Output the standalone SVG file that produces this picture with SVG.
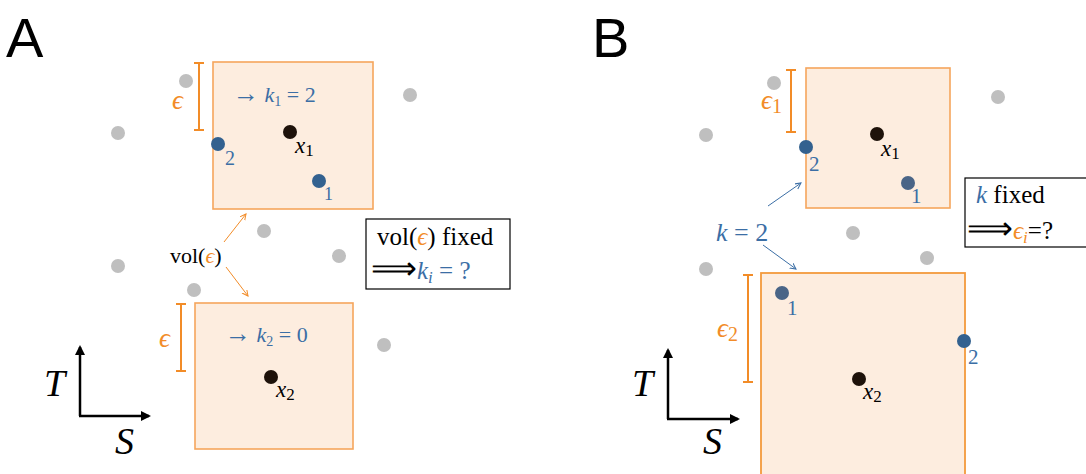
<svg xmlns="http://www.w3.org/2000/svg" width="1086" height="474" viewBox="0 0 1086 474">
<defs>
<style>
.box{fill:#fdeddf;stroke:#f5a55c;stroke-width:1.6}
.box2{fill:#fdeddf;stroke:#f39a3c;stroke-width:1.8}
.gray{fill:#bfbfbf}
.blk{fill:#1e120a}
.blue{fill:#33618f}
.blue2{fill:#4a6587}
.br{stroke:#f28c28;stroke-width:2;fill:none}
.m{font-family:"Liberation Serif",serif;font-style:italic}
.r{font-family:"Liberation Serif",serif}
.bt{fill:#3b6ea5}
.ot{fill:#f28c28}
.lab{font-family:"Liberation Sans",Arial,sans-serif;font-size:56px;fill:#000}
.tb{fill:#fff;stroke:#000;stroke-width:1.2}
</style>
<marker id="ao" markerWidth="8" markerHeight="8" refX="6" refY="3" orient="auto" markerUnits="userSpaceOnUse"><path d="M0,0 L6,3 L0,6" fill="none" stroke="#f28c28" stroke-width="1"/></marker>
<marker id="ab" markerWidth="8" markerHeight="8" refX="6" refY="3" orient="auto" markerUnits="userSpaceOnUse"><path d="M0,0 L6,3 L0,6" fill="none" stroke="#3b6ea5" stroke-width="1"/></marker>
<marker id="ak" markerWidth="12" markerHeight="12" refX="8" refY="5" orient="auto" markerUnits="userSpaceOnUse"><path d="M0,0 L10,5 L0,10 Z" fill="#000"/></marker>
</defs>

<!-- Panel A -->
<text class="lab" x="6" y="57">A</text>
<g id="A-gray">
<circle class="gray" cx="186" cy="81" r="7"/>
<circle class="gray" cx="118" cy="133" r="7"/>
<circle class="gray" cx="410" cy="95" r="7"/>
<circle class="gray" cx="264" cy="231" r="7"/>
<circle class="gray" cx="118" cy="266" r="7"/>
<circle class="gray" cx="339" cy="256" r="7"/>
<circle class="gray" cx="194" cy="290" r="7"/>
<circle class="gray" cx="384" cy="345" r="7"/>
</g>
<g id="A-box1">
<rect class="box" x="213" y="62" width="160" height="147"/>
<text class="r bt" x="233" y="102" font-size="22"><tspan font-size="26">→</tspan> <tspan class="m">k</tspan><tspan font-size="14" dy="4">1</tspan><tspan dy="-4"> = 2</tspan></text>
<circle class="blk" cx="290" cy="132" r="7"/>
<text class="m" x="295" y="153" font-size="23">x<tspan class="r" font-style="normal" font-size="17" dy="3">1</tspan></text>
<circle class="blue" cx="218" cy="144" r="7"/>
<text class="r bt" x="225" y="165" font-size="20">2</text>
<circle class="blue" cx="319" cy="181" r="7"/>
<text class="r bt" x="324" y="200" font-size="18">1</text>
</g>
<g id="A-eps1">
<path class="br" d="M199,63 V130 M194,63 H204 M194,130 H204"/>
<text class="m ot" x="172" y="109" font-size="27">ϵ</text>
</g>
<g id="A-box2">
<rect class="box" x="195" y="303" width="158" height="146"/>
<text class="r bt" x="225" y="342" font-size="22"><tspan font-size="26">→</tspan> <tspan class="m">k</tspan><tspan font-size="14" dy="4">2</tspan><tspan dy="-4"> = 0</tspan></text>
<circle class="blk" cx="271" cy="377" r="7"/>
<text class="m" x="276" y="397" font-size="23">x<tspan class="r" font-style="normal" font-size="17" dy="3">2</tspan></text>
</g>
<g id="A-eps2">
<path class="br" d="M181,304 V371 M176,304 H186 M176,371 H186"/>
<text class="m ot" x="159" y="347" font-size="27">ϵ</text>
</g>
<g id="A-vol">
<text class="r" x="170" y="263" font-size="22">vol(<tspan class="m ot">ϵ</tspan>)</text>
</g>
<g id="A-query">
<rect class="tb" x="366" y="219" width="144" height="70"/>
<text class="r" x="377" y="245" font-size="25">vol(<tspan class="m ot">ϵ</tspan>) fixed</text>
<text class="r" x="371" y="279" font-size="25"><tspan font-size="32">⟹</tspan><tspan class="m bt">k</tspan><tspan class="m bt" font-size="17" dy="4">i</tspan><tspan class="bt" dy="-4"> = ?</tspan></text>
</g>
<g id="A-axes">
<path d="M80,416 V347" stroke="#000" stroke-width="2.5" fill="none" marker-end="url(#ak)"/>
<path d="M79,416 H149" stroke="#000" stroke-width="2.5" fill="none" marker-end="url(#ak)"/>
<text class="m" x="44" y="396" font-size="38">T</text>
<text class="m" x="115" y="454" font-size="38">S</text>
</g>

<!-- Panel B -->
<text class="lab" x="592" y="57">B</text>
<g id="B-gray">
<circle class="gray" cx="774" cy="83" r="7"/>
<circle class="gray" cx="706" cy="135" r="7"/>
<circle class="gray" cx="998" cy="97" r="7"/>
<circle class="gray" cx="853" cy="233" r="7"/>
<circle class="gray" cx="706" cy="269" r="7"/>
<circle class="gray" cx="927" cy="258" r="7"/>
</g>
<g id="B-box1">
<rect class="box" x="806" y="68" width="144" height="140"/>
<circle class="blk" cx="877" cy="134" r="7"/>
<text class="m" x="881" y="156" font-size="23">x<tspan class="r" font-style="normal" font-size="17" dy="3">1</tspan></text>
<circle class="blue" cx="806" cy="147" r="7"/>
<text class="r bt" x="809" y="171" font-size="21">2</text>
<circle class="blue2" cx="908" cy="183" r="7"/>
<text class="r bt" x="911" y="203" font-size="21">1</text>
</g>
<g id="B-eps1">
<path class="br" d="M791,70 V132 M786,70 H796 M786,132 H796"/>
<text class="m ot" x="761" y="109" font-size="27">ϵ<tspan class="r" font-style="normal" font-size="20" dy="4">1</tspan></text>
</g>
<g id="B-box2">
<rect class="box2" x="761" y="273" width="204" height="210"/>
<circle class="blue2" cx="782" cy="293" r="7"/>
<text class="r bt" x="787" y="315" font-size="21">1</text>
<circle class="blue" cx="964" cy="341" r="7"/>
<text class="r bt" x="968" y="364" font-size="21">2</text>
<circle class="blk" cx="859" cy="379" r="7"/>
<text class="m" x="863" y="399" font-size="23">x<tspan class="r" font-style="normal" font-size="17" dy="3">2</tspan></text>
</g>
<g id="B-eps2">
<path class="br" d="M748,275 V382 M743,275 H753 M743,382 H753"/>
<text class="m ot" x="717" y="337" font-size="27">ϵ<tspan class="r" font-style="normal" font-size="20" dy="4">2</tspan></text>
</g>
<g id="B-k">
<text class="m bt" x="716" y="241" font-size="26">k<tspan class="r" font-style="normal"> = 2</tspan></text>
</g>
<g id="B-query">
<rect class="tb" x="965" y="178" width="130" height="69"/>
<text class="r" x="976" y="203" font-size="25"><tspan class="m bt">k</tspan> fixed</text>
<text class="r" x="967" y="239" font-size="25"><tspan font-size="32">⟹</tspan><tspan class="m ot">ϵ</tspan><tspan class="m ot" font-size="17" dy="4">i</tspan><tspan dy="-4">=?</tspan></text>
</g>
<g id="B-axes">
<path d="M668,419 V350" stroke="#000" stroke-width="2.5" fill="none" marker-end="url(#ak)"/>
<path d="M667,419 H738" stroke="#000" stroke-width="2.5" fill="none" marker-end="url(#ak)"/>
<text class="m" x="632" y="396" font-size="38">T</text>
<text class="m" x="703" y="454" font-size="38">S</text>
</g>

<g id="connectors">
<path d="M224,242 L246,214" stroke="#f28c28" stroke-width="1" fill="none" marker-end="url(#ao)"/>
<path d="M226,267 L248,296" stroke="#f28c28" stroke-width="1" fill="none" marker-end="url(#ao)"/>
<path d="M768,206 L801,183" stroke="#3b6ea5" stroke-width="1" fill="none" marker-end="url(#ab)"/>
<path d="M763,245 L796,269" stroke="#3b6ea5" stroke-width="1" fill="none" marker-end="url(#ab)"/>
</g>
</svg>
